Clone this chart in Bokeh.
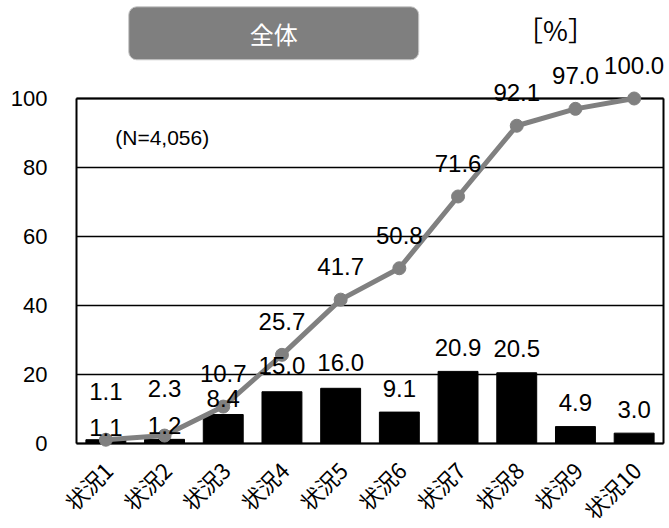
import math
from bokeh.plotting import figure
from bokeh.models import ColumnDataSource, LabelSet, Label, Range1d
from bokeh.core.properties import value
from bokeh.embed import file_html
from bokeh.resources import INLINE

categories = ["状況1", "状況2", "状況3", "状況4", "状況5", "状況6", "状況7", "状況8", "状況9", "状況10"]
share = [1.1, 1.2, 8.4, 15.0, 16.0, 9.1, 20.9, 20.5, 4.9, 3.0]
cumulative = [1.1, 2.3, 10.7, 25.7, 41.7, 50.8, 71.6, 92.1, 97.0, 100.0]
y_ticks = [0, 20, 40, 60, 80, 100]
title_text = "全体"
unit_text = "［%］"
n_text = "(N=4,056)"

# label offsets (pixels above the value)
bar_label_dy = [12, 14, 16, 26, 26, 24, 24, 24, 24, 24]
line_label_dy = [48, 47, 33, 33, 33, 33, 33, 33, 33, 33]

# layout of the plot box inside the 669x528 canvas
W, H = 669, 528
box_left, box_right = 76, 663          # px
zero_px, px_per_unit = 443, 3.45       # value 0 at 443px from top
n = len(categories)
px_per_cat = (box_right - box_left) / n
x_lo = -box_left / px_per_cat
x_hi = n + (W - box_right) / px_per_cat
y_lo = -(H - zero_px) / px_per_unit
y_hi = zero_px / px_per_unit
y_max = y_ticks[-1]

xpos = [i + 0.5 for i in range(n)]     # category centres
src = ColumnDataSource(dict(
    x=xpos, cat=categories, share=share, cum=cumulative,
    share_txt=[f"{v:.1f}" for v in share],
    cum_txt=[f"{v:.1f}" for v in cumulative],
    bdy=bar_label_dy, ldy=line_label_dy,
))
tick_src = ColumnDataSource(dict(y=y_ticks, txt=[str(t) for t in y_ticks]))

p = figure(width=W, height=H, output_backend="svg", toolbar_location=None,
           x_range=Range1d(x_lo, x_hi), y_range=Range1d(y_lo, y_hi),
           min_border_left=0, min_border_right=0, min_border_top=0, min_border_bottom=0)
p.background_fill_color = "white"
p.border_fill_color = "white"
p.outline_line_color = None
p.xaxis.visible = False
p.yaxis.visible = False
p.xgrid.visible = False
p.ygrid.visible = False

# horizontal grid lines
p.segment(x0=0, x1=n, y0="y", y1="y", source=tick_src, line_color="black", line_width=1.3)

p.vbar(x="x", top="share", bottom=0, width=0.68, source=src, fill_color="black", line_color="black")

# plot box edges
p.segment(x0=[0, n], x1=[0, n], y0=[0, 0], y1=[y_max, y_max], line_color="black", line_width=2)
p.segment(x0=[0], x1=[n], y0=[0], y1=[0], line_color="black", line_width=2.2)
p.segment(x0=[0], x1=[n], y0=[y_max], y1=[y_max], line_color="black", line_width=1.8)

p.line(x="x", y="cum", source=src, line_color="#808080", line_width=5)
p.scatter(x="x", y="cum", source=src, size=13, fill_color="#808080", line_color="#808080")

font = "Liberation Sans"
p.add_layout(LabelSet(x="x", y="share", text="share_txt", y_offset="bdy", source=src,
                      text_align="center", text_baseline="middle",
                      text_font=value(font), text_font_size=value("24px"), text_color="black"))
p.add_layout(LabelSet(x="x", y="cum", text="cum_txt", y_offset="ldy", source=src,
                      text_align="center", text_baseline="middle",
                      text_font=value(font), text_font_size=value("24px"), text_color="black"))

# y tick labels
p.add_layout(LabelSet(x=0, y="y", text="txt", source=tick_src, x_offset=-29,
                      text_align="right", text_baseline="middle",
                      text_font=value(font), text_font_size=value("22px"), text_color="black"))

# category labels, rotated 45 degrees under the axis
p.add_layout(LabelSet(x="x", y=0, text="cat", source=src, angle=math.pi / 4,
                      x_offset=2, y_offset=-22, text_align="right", text_baseline="middle",
                      text_font=value("Noto Sans CJK JP"), text_font_size=value("22px"),
                      text_color="black"))

p.add_layout(Label(x=3.36, y=118.9, text=title_text, text_align="center", text_baseline="middle",
                   text_font="Noto Sans CJK JP", text_font_size="24px", text_color="white",
                   background_fill_color="#7f7f7f", border_line_color="#c8c8c8",
                   padding=(121, 121, 9, 9), border_radius=8))
p.add_layout(Label(x=8.16, y=120.0, text=unit_text, text_align="center", text_baseline="middle",
                   text_font="Noto Sans CJK JP", text_font_size="27px", text_color="black"))
p.add_layout(Label(x=0.66, y=88.7, text=n_text, text_align="left", text_baseline="middle",
                   text_font=font, text_font_size="21px", text_color="black"))

open("out.html", "w").write(file_html(p, INLINE))
